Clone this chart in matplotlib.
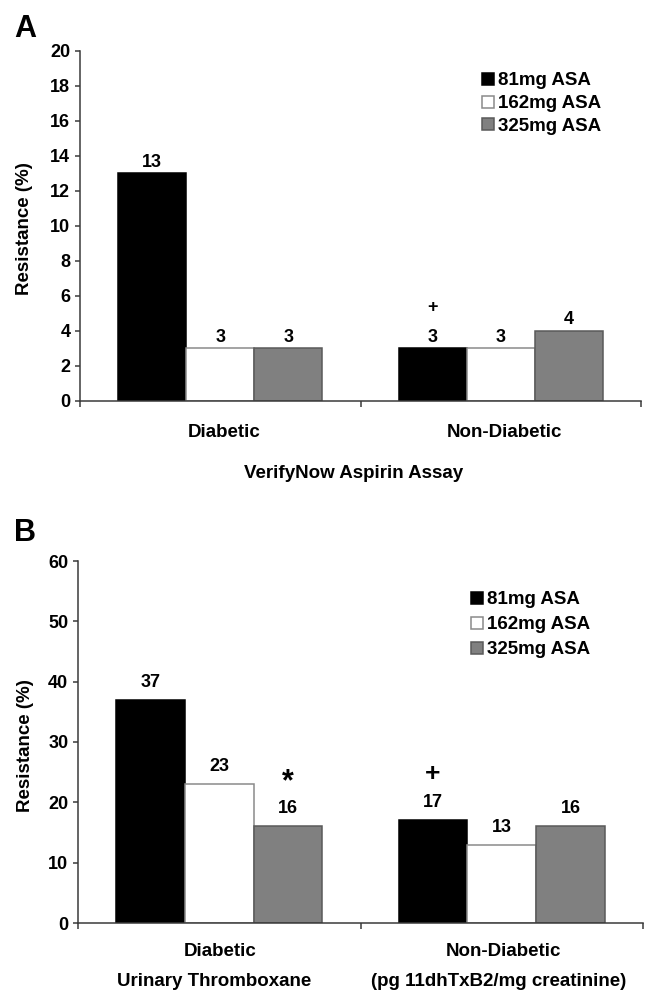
import matplotlib
matplotlib.use("Agg")
import matplotlib.pyplot as plt
from matplotlib.lines import Line2D

plt.rcParams['font.family'] = ['Liberation Sans', 'DejaVu Sans']
plt.rcParams['font.weight'] = 'bold'

groups = ["Diabetic", "Non-Diabetic"]
series = ["81mg ASA", "162mg ASA", "325mg ASA"]
vals_a = [[13, 3], [3, 3], [3, 4]]
vals_b = [[37, 17], [23, 13], [16, 16]]
face = ["#000000", "#ffffff", "#808080"]
edge = ["#000000", "#8a8a8a", "#5a5a5a"]

W, H = 646, 1007
fig = plt.figure(figsize=(W/100, H/100), dpi=100)

def fx(px):
    return px / W

def fy(py):
    return 1 - py / H

axA = fig.add_axes([fx(80), fy(401), (641-80)/W, (401-51)/H])
axB = fig.add_axes([fx(78), fy(923), (643-78)/W, (923-561)/H])

centers = [0.5, 1.5]
w = 0.243

def draw(ax, vals, ymax, step, vfs, voff, legend_xy, lspace):
    for i in range(3):
        xs = [c + (i-1)*w for c in centers]
        ax.bar(xs, vals[i], width=w, color=face[i], edgecolor=edge[i], linewidth=1.1, zorder=2)
        for x, v in zip(xs, vals[i]):
            ax.annotate(str(v), (x, v), xytext=(0, voff), textcoords='offset points',
                        ha='center', va='baseline', fontsize=vfs, fontweight='bold')
    ax.set_xlim(0, 2)
    ax.set_ylim(0, ymax)
    ax.set_yticks(range(0, ymax+1, step))
    ax.set_xticks([0, 1, 2])
    ax.set_xticklabels([])
    for s in ['top', 'right']:
        ax.spines[s].set_visible(False)
    for s in ['left', 'bottom']:
        ax.spines[s].set_color('#3a3a3a')
        ax.spines[s].set_linewidth(1.1)
    ax.tick_params(axis='y', length=3.5, width=1.1, color='#3a3a3a', labelsize=13, pad=3.5)
    ax.tick_params(axis='x', length=4, width=1.1, color='#3a3a3a')
    for lab in ax.get_yticklabels():
        lab.set_fontweight('bold')
    handles = [Line2D([0], [0], marker='s', linestyle='none', markersize=8.5,
                      markerfacecolor=face[i], markeredgecolor=edge[i], markeredgewidth=1.1)
               for i in range(3)]
    ax.legend(handles, series, loc='upper left', bbox_to_anchor=(fx(legend_xy[0]), fy(legend_xy[1])),
              bbox_transform=fig.transFigure, frameon=False,
              prop={'size': 13.5, 'weight': 'bold'}, handletextpad=0.15, labelspacing=lspace,
              handlelength=0.75, borderaxespad=0, borderpad=0)

draw(axA, vals_a, 20, 2, 13, 4.8, (481, 72), 0.31)
draw(axB, vals_b, 60, 10, 13, 9.4, (470, 591), 0.42)

# y labels
fig.text(fx(24.5), fy(229), "Resistance (%)", rotation=90, ha='center', va='center',
         fontsize=13.5, fontweight='bold')
fig.text(fx(26), fy(746), "Resistance (%)", rotation=90, ha='center', va='center',
         fontsize=13.5, fontweight='bold')

# category labels
for x, g in zip([224, 504], groups):
    fig.text(fx(x), fy(437), g, ha='center', va='baseline', fontsize=13.5, fontweight='bold')
for x, g in zip([220, 503], groups):
    fig.text(fx(x), fy(956), g, ha='center', va='baseline', fontsize=13.5, fontweight='bold')

fig.text(fx(354), fy(478), "VerifyNow Aspirin Assay", ha='center', va='baseline',
         fontsize=13.5, fontweight='bold')
fig.text(fx(214), fy(986), "Urinary Thromboxane", ha='center', va='baseline',
         fontsize=13.5, fontweight='bold')
fig.text(fx(499), fy(986), "(pg 11dhTxB2/mg creatinine)", ha='center', va='baseline',
         fontsize=13.5, fontweight='bold')

# significance markers
axA.text(centers[1]-w, 5.1, "+", ha='center', va='baseline', fontsize=13, fontweight='bold')
axB.text(centers[1]-w, 23.5, "+", ha='center', va='baseline', fontsize=19, fontweight='bold')
axB.text(centers[0]+w, 22.0, "*", ha='center', va='baseline', fontsize=22, fontweight='bold')

fig.text(fx(14), fy(37), "A", ha='left', va='baseline', fontsize=22, fontweight='bold')
fig.text(fx(14), fy(541), "B", ha='left', va='baseline', fontsize=22, fontweight='bold')

fig.savefig("out.png", dpi=100, facecolor='white')
